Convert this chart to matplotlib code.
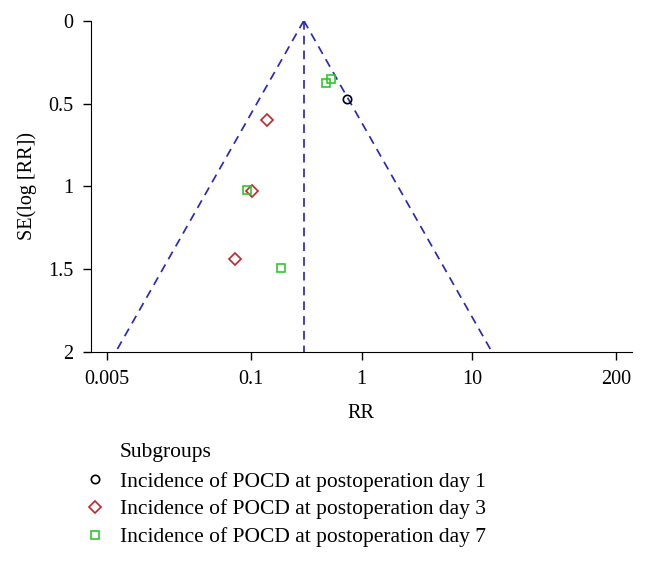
import numpy as np
import matplotlib
matplotlib.use("Agg")
import matplotlib.pyplot as plt
from matplotlib.lines import Line2D

plt.rcParams["font.family"] = ["Liberation Serif", "DejaVu Serif"]

# funnel plot data
pooled_rr = 0.30
se_max = 2.0

rr_day1 = [0.73]
se_day1 = [0.475]

rr_day3 = [0.138, 0.1025, 0.072]
se_day3 = [0.600, 1.029, 1.438]

rr_day7 = [0.475, 0.525, 0.092, 0.185]
se_day7 = [0.375, 0.354, 1.023, 1.492]

xticks = [0.005, 0.1, 1, 10, 200]
xticklabels = ["0.005", "0.1", "1", "10", "200"]
yticks = [0, 0.5, 1, 1.5, 2]
yticklabels = ["0", "0.5", "1", "1.5", "2"]

labels = ["Incidence of POCD at postoperation day 1",
          "Incidence of POCD at postoperation day 3",
          "Incidence of POCD at postoperation day 7"]

BLUE = "#2a2ab8"
RED = "#c0262a"
GREEN = "#2ec82e"
FS = 14.5
FS_LEG = 15.5

fig = plt.figure(figsize=(6.47, 5.64), dpi=100)
ax = fig.add_axes([0.1402, 0.3754, 0.8366, 0.5879])

# pseudo 95% limits
se_line = np.array([0, se_max])
lo = np.exp(np.log(pooled_rr) - 1.96 * se_line)
hi = np.exp(np.log(pooled_rr) + 1.96 * se_line)
dash = dict(color=BLUE, lw=1.25, ls=(0, (5, 3.5)))
ax.plot(lo, se_line, **dash)
ax.plot(hi, se_line, **dash)
ax.plot([pooled_rr, pooled_rr], se_line, **dash)

ax.plot(rr_day1, se_day1, "o", ms=6, mfc="none", mec="black", mew=1.2, ls="none")
ax.plot(rr_day3, se_day3, "D", ms=5.8, mfc="none", mec=RED, mew=1.2, ls="none")
ax.plot(rr_day7, se_day7, "s", ms=5.3, mfc="none", mec=GREEN, mew=1.2, ls="none")

ax.set_xscale("log")
ax.set_xlim(0.00355, 278)
ax.set_ylim(2, 0)
ax.set_xticks(xticks)
ax.set_xticklabels(xticklabels)
ax.minorticks_off()
ax.set_yticks(yticks)
ax.set_yticklabels(yticklabels)
ax.tick_params(direction="out", length=5.8, width=1, labelsize=FS)
ax.tick_params(axis="x", pad=7)
ax.tick_params(axis="y", pad=6.5)
for s in ["top", "right"]:
    ax.spines[s].set_visible(False)
ax.set_xlabel("RR", fontsize=FS, labelpad=11)
ax.set_ylabel("SE(log [RR])", fontsize=FS, labelpad=8.5)

fig.text(120 / 647, 1 - 453 / 564, "Subgroups", fontsize=FS_LEG, ha="left", va="center")
handles = [
    Line2D([], [], marker="o", ms=6, mfc="none", mec="black", mew=1.2, ls="none"),
    Line2D([], [], marker="D", ms=5.8, mfc="none", mec=RED, mew=1.2, ls="none"),
    Line2D([], [], marker="s", ms=5.3, mfc="none", mec=GREEN, mew=1.2, ls="none"),
]
fig.legend(handles, labels, loc="upper left", bbox_to_anchor=(84.3 / 647, 1 - 471.5 / 564),
           frameon=False, fontsize=FS_LEG, handlelength=1.0, handletextpad=0.66,
           borderpad=0, borderaxespad=0, labelspacing=0.36, numpoints=1)

fig.savefig("out.png", dpi=100, facecolor="white")
